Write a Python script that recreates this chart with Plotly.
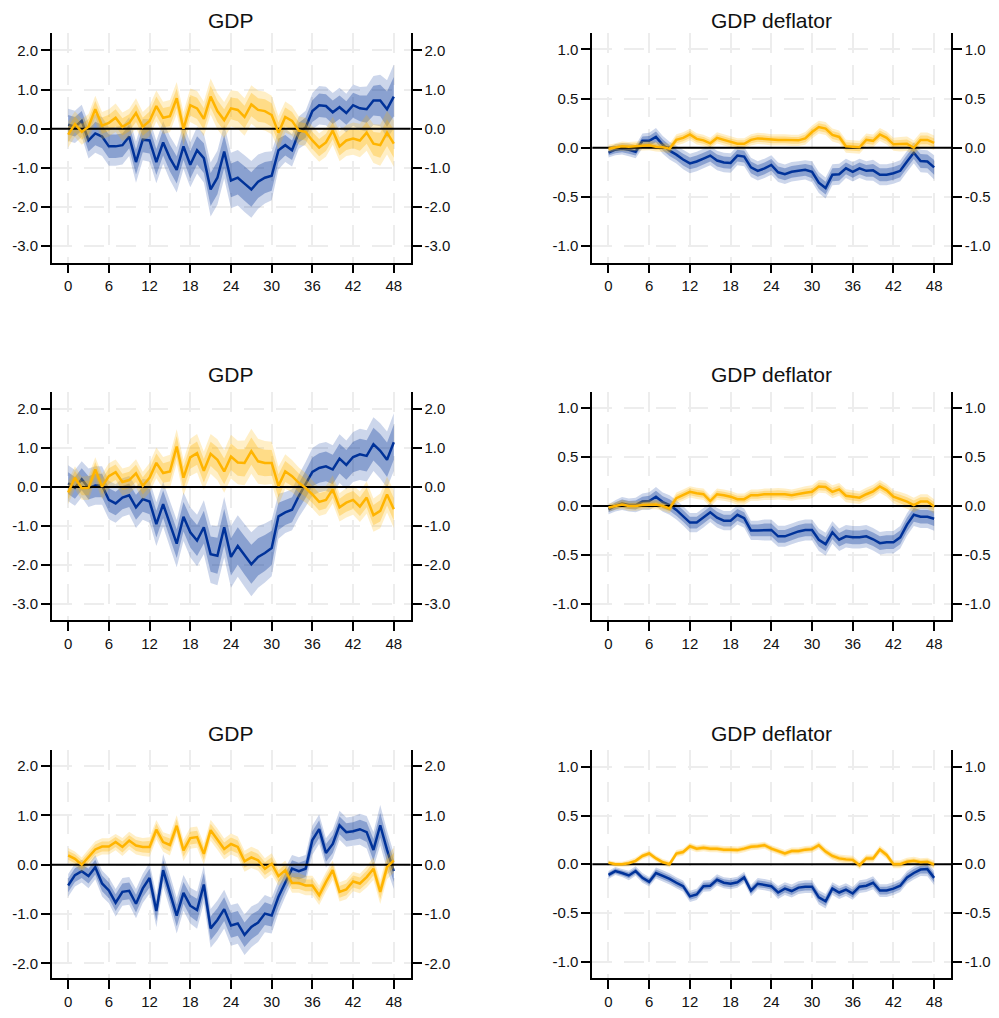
import plotly.graph_objects as go

periods = list(range(49))

# ---------- Row 1 ----------
gdp1_blue = [0.1, 0.05, 0.2, -0.3, -0.12, -0.2, -0.45, -0.45, -0.42, -0.2, -0.85, -0.28, -0.3, -0.85, -0.35,
             -0.75, -1.05, -0.45, -0.92, -0.55, -0.75, -1.55, -1.25, -0.58, -1.32, -1.25, -1.4, -1.55, -1.35,
             -1.25, -1.2, -0.55, -0.42, -0.55, -0.1, 0.03, 0.45, 0.6, 0.58, 0.42, 0.55, 0.4, 0.6, 0.52, 0.5,
             0.72, 0.72, 0.5, 0.82]
gdp1_blue_sd = [0.25, 0.25, 0.25, 0.28, 0.3, 0.3, 0.3, 0.3, 0.3, 0.3, 0.32, 0.32, 0.33, 0.33, 0.33, 0.34, 0.35,
                0.35, 0.35, 0.36, 0.38, 0.42, 0.42, 0.42, 0.43, 0.43, 0.44, 0.44, 0.42, 0.4, 0.38, 0.3, 0.26,
                0.25, 0.25, 0.26, 0.28, 0.3, 0.3, 0.3, 0.3, 0.3, 0.32, 0.33, 0.35, 0.38, 0.4, 0.45, 0.5]
gdp1_orange = [-0.15, 0.12, -0.08, 0.05, 0.5, 0.08, 0.15, 0.28, 0.05, 0.15, 0.4, 0.05, 0.2, 0.58, 0.28, 0.32,
               0.78, 0.0, 0.6, 0.52, 0.25, 0.82, 0.45, 0.22, 0.52, 0.48, 0.3, 0.62, 0.48, 0.45, 0.35, -0.1,
               0.3, 0.2, -0.05, -0.08, -0.3, -0.48, -0.35, -0.05, -0.45, -0.3, -0.25, -0.3, -0.1, -0.38,
               -0.42, -0.1, -0.38]
gdp1_orange_sd = [0.2, 0.2, 0.2, 0.2, 0.21, 0.21, 0.21, 0.22, 0.22, 0.22, 0.23, 0.23, 0.24, 0.24, 0.25, 0.25,
                  0.25, 0.26, 0.26, 0.27, 0.27, 0.28, 0.28, 0.28, 0.28, 0.29, 0.29, 0.3, 0.3, 0.3, 0.3, 0.26,
                  0.24, 0.23, 0.22, 0.22, 0.22, 0.22, 0.22, 0.22, 0.23, 0.24, 0.25, 0.26, 0.28, 0.3, 0.32,
                  0.34, 0.36]

defl1_blue = [-0.05, -0.02, -0.01, -0.02, -0.04, 0.07, 0.07, 0.11, 0.03, -0.03, -0.07, -0.12, -0.16, -0.14,
              -0.11, -0.08, -0.13, -0.15, -0.155, -0.08, -0.09, -0.2, -0.235, -0.21, -0.175, -0.25, -0.27,
              -0.245, -0.235, -0.225, -0.245, -0.355, -0.41, -0.275, -0.27, -0.21, -0.245, -0.21, -0.235,
              -0.23, -0.275, -0.275, -0.26, -0.235, -0.14, -0.05, -0.135, -0.14, -0.2]
defl1_blue_sd = [0.03, 0.035, 0.035, 0.04, 0.04, 0.045, 0.05, 0.055, 0.055, 0.055, 0.055, 0.06, 0.06, 0.06,
                 0.06, 0.06, 0.06, 0.06, 0.06, 0.06, 0.06, 0.06, 0.06, 0.06, 0.06, 0.06, 0.06, 0.06, 0.06,
                 0.06, 0.065, 0.065, 0.065, 0.065, 0.065, 0.06, 0.06, 0.06, 0.06, 0.065, 0.065, 0.065,
                 0.065, 0.065, 0.065, 0.065, 0.07, 0.07, 0.075]
defl1_orange = [-0.01, 0.005, 0.015, 0.01, 0.015, 0.02, 0.025, 0.01, 0.005, -0.01, 0.08, 0.1, 0.135, 0.09,
                0.075, 0.045, 0.1, 0.08, 0.06, 0.04, 0.04, 0.08, 0.095, 0.09, 0.08, 0.08, 0.08, 0.075, 0.075,
                0.095, 0.16, 0.21, 0.195, 0.13, 0.11, 0.015, 0.01, 0.005, 0.08, 0.07, 0.135, 0.1, 0.035,
                0.035, 0.04, 0.0, 0.08, 0.08, 0.05]
defl1_orange_sd = [0.025, 0.025, 0.03, 0.03, 0.03, 0.03, 0.03, 0.03, 0.03, 0.03, 0.035, 0.035, 0.035, 0.035,
                   0.035, 0.035, 0.035, 0.035, 0.035, 0.035, 0.035, 0.035, 0.035, 0.035, 0.035, 0.035,
                   0.035, 0.035, 0.035, 0.04, 0.04, 0.04, 0.04, 0.04, 0.04, 0.04, 0.04, 0.04, 0.04, 0.04,
                   0.04, 0.04, 0.04, 0.045, 0.045, 0.045, 0.045, 0.045, 0.045]

# ---------- Row 2 ----------
gdp2_blue = [0.1, -0.02, 0.2, -0.02, 0.04, 0.04, -0.33, -0.42, -0.27, -0.21, -0.52, -0.31, -0.37, -0.95,
             -0.44, -0.95, -1.45, -0.76, -1.16, -1.37, -1.03, -1.72, -1.76, -1.03, -1.79, -1.51, -1.75,
             -1.98, -1.79, -1.69, -1.56, -0.75, -0.65, -0.58, -0.23, 0.07, 0.39, 0.49, 0.53, 0.45, 0.73,
             0.57, 0.77, 0.84, 0.8, 1.1, 0.93, 0.7, 1.15]
gdp2_blue_sd = [0.28, 0.28, 0.28, 0.3, 0.3, 0.3, 0.3, 0.3, 0.3, 0.3, 0.32, 0.32, 0.33, 0.34, 0.35, 0.36, 0.37,
                0.38, 0.39, 0.4, 0.42, 0.45, 0.46, 0.47, 0.48, 0.48, 0.49, 0.5, 0.48, 0.46, 0.44, 0.35, 0.32,
                0.32, 0.33, 0.35, 0.37, 0.38, 0.38, 0.38, 0.38, 0.38, 0.39, 0.4, 0.4, 0.42, 0.43, 0.44, 0.45]
gdp2_orange = [-0.14, 0.24, -0.03, -0.02, 0.45, 0.01, 0.28, 0.38, 0.13, 0.18, 0.35, 0.03, 0.24, 0.62, 0.36,
               0.4, 1.04, 0.24, 0.76, 0.87, 0.42, 0.85, 0.7, 0.4, 0.78, 0.63, 0.62, 0.92, 0.66, 0.62, 0.62,
               0.03, 0.4, 0.28, 0.11, -0.02, -0.19, -0.38, -0.33, -0.06, -0.52, -0.4, -0.33, -0.5, -0.27,
               -0.72, -0.61, -0.19, -0.57]
gdp2_orange_sd = [0.18, 0.18, 0.18, 0.19, 0.19, 0.2, 0.2, 0.2, 0.21, 0.21, 0.22, 0.22, 0.23, 0.24, 0.25, 0.26,
                  0.27, 0.28, 0.29, 0.3, 0.3, 0.31, 0.32, 0.33, 0.34, 0.34, 0.35, 0.35, 0.35, 0.34, 0.33, 0.3,
                  0.27, 0.25, 0.24, 0.23, 0.22, 0.22, 0.22, 0.22, 0.22, 0.23, 0.23, 0.24, 0.25, 0.26, 0.27,
                  0.28, 0.29]

defl2_blue = [-0.035, 0.0, 0.025, 0.01, 0.01, 0.045, 0.05, 0.095, 0.04, 0.01, -0.04, -0.1, -0.17, -0.17,
              -0.12, -0.065, -0.12, -0.15, -0.15, -0.09, -0.125, -0.25, -0.25, -0.245, -0.245, -0.31, -0.31,
              -0.285, -0.26, -0.245, -0.245, -0.345, -0.39, -0.27, -0.345, -0.31, -0.32, -0.32, -0.31,
              -0.34, -0.38, -0.37, -0.37, -0.32, -0.19, -0.09, -0.11, -0.11, -0.13]
defl2_blue_sd = [0.03, 0.035, 0.04, 0.04, 0.045, 0.05, 0.055, 0.06, 0.06, 0.06, 0.06, 0.06, 0.06, 0.06, 0.06,
                 0.06, 0.06, 0.06, 0.06, 0.06, 0.06, 0.06, 0.06, 0.065, 0.065, 0.065, 0.065, 0.065, 0.065,
                 0.065, 0.065, 0.07, 0.07, 0.07, 0.07, 0.07, 0.07, 0.07, 0.07, 0.07, 0.07, 0.07, 0.07,
                 0.07, 0.07, 0.07, 0.07, 0.07, 0.075]
defl2_orange = [-0.015, 0.0, 0.015, 0.0, 0.0, 0.01, 0.015, 0.015, 0.0, -0.025, 0.08, 0.11, 0.145, 0.13, 0.12,
                0.05, 0.12, 0.11, 0.095, 0.07, 0.07, 0.11, 0.11, 0.12, 0.12, 0.125, 0.12, 0.11, 0.125, 0.135,
                0.145, 0.2, 0.195, 0.145, 0.17, 0.105, 0.095, 0.085, 0.12, 0.15, 0.2, 0.16, 0.095, 0.07,
                0.045, 0.01, 0.045, 0.045, -0.005]
defl2_orange_sd = [0.025, 0.025, 0.03, 0.03, 0.03, 0.03, 0.03, 0.03, 0.03, 0.03, 0.035, 0.035, 0.035, 0.035,
                   0.035, 0.035, 0.035, 0.035, 0.035, 0.035, 0.035, 0.035, 0.035, 0.035, 0.035, 0.035,
                   0.035, 0.035, 0.035, 0.04, 0.04, 0.04, 0.04, 0.04, 0.04, 0.04, 0.04, 0.04, 0.04, 0.04,
                   0.04, 0.04, 0.04, 0.045, 0.045, 0.045, 0.045, 0.045, 0.045]

# ---------- Row 3 ----------
gdp3_blue = [-0.42, -0.21, -0.13, -0.23, -0.05, -0.38, -0.52, -0.77, -0.55, -0.53, -0.79, -0.48, -0.27,
             -0.94, -0.11, -0.55, -1.03, -0.57, -0.83, -0.92, -0.4, -1.29, -1.12, -0.9, -1.23, -1.19, -1.42,
             -1.26, -1.17, -0.99, -1.03, -0.65, -0.36, -0.08, -0.13, -0.08, 0.5, 0.72, 0.24, 0.42, 0.8,
             0.66, 0.68, 0.72, 0.66, 0.3, 0.8, 0.3, -0.13]
gdp3_blue_sd = [0.14, 0.14, 0.14, 0.15, 0.15, 0.16, 0.16, 0.17, 0.17, 0.17, 0.18, 0.18, 0.19, 0.2, 0.2, 0.21,
                0.22, 0.22, 0.22, 0.23, 0.23, 0.24, 0.24, 0.24, 0.25, 0.25, 0.25, 0.25, 0.24, 0.23, 0.22,
                0.2, 0.18, 0.17, 0.17, 0.17, 0.18, 0.18, 0.18, 0.18, 0.18, 0.18, 0.18, 0.19, 0.2, 0.22,
                0.25, 0.24, 0.22]
gdp3_orange = [0.19, 0.12, 0.0, 0.15, 0.31, 0.37, 0.37, 0.46, 0.36, 0.49, 0.39, 0.36, 0.36, 0.71, 0.46, 0.4,
               0.79, 0.29, 0.54, 0.56, 0.22, 0.7, 0.52, 0.32, 0.42, 0.36, 0.07, 0.15, 0.09, -0.08, 0.02,
               -0.23, -0.11, -0.37, -0.37, -0.42, -0.42, -0.62, -0.35, -0.11, -0.55, -0.5, -0.34, -0.38,
               -0.25, -0.08, -0.55, -0.05, 0.09]
gdp3_orange_sd = [0.09, 0.09, 0.09, 0.1, 0.1, 0.1, 0.1, 0.1, 0.11, 0.11, 0.11, 0.11, 0.12, 0.12, 0.12, 0.13,
                  0.13, 0.13, 0.13, 0.13, 0.13, 0.13, 0.13, 0.13, 0.13, 0.13, 0.13, 0.13, 0.13, 0.13, 0.13,
                  0.12, 0.12, 0.12, 0.12, 0.12, 0.12, 0.12, 0.12, 0.12, 0.12, 0.12, 0.12, 0.12, 0.13, 0.14,
                  0.15, 0.15, 0.15]

defl3_blue = [-0.11, -0.07, -0.09, -0.115, -0.07, -0.14, -0.18, -0.09, -0.12, -0.15, -0.19, -0.225, -0.33,
              -0.31, -0.225, -0.22, -0.16, -0.19, -0.2, -0.185, -0.135, -0.27, -0.2, -0.21, -0.225, -0.29,
              -0.25, -0.275, -0.24, -0.23, -0.23, -0.34, -0.38, -0.25, -0.29, -0.26, -0.3, -0.23, -0.22,
              -0.19, -0.27, -0.27, -0.25, -0.22, -0.135, -0.09, -0.055, -0.05, -0.14]
defl3_blue_sd = [0.025, 0.025, 0.025, 0.03, 0.03, 0.03, 0.03, 0.035, 0.035, 0.035, 0.035, 0.035, 0.035,
                 0.035, 0.035, 0.035, 0.035, 0.035, 0.035, 0.035, 0.035, 0.035, 0.035, 0.035, 0.035, 0.04,
                 0.04, 0.04, 0.04, 0.04, 0.04, 0.045, 0.045, 0.04, 0.04, 0.04, 0.04, 0.04, 0.04, 0.04,
                 0.04, 0.04, 0.04, 0.04, 0.04, 0.04, 0.04, 0.045, 0.045]
defl3_orange = [0.015, 0.0, 0.0, 0.01, 0.035, 0.085, 0.11, 0.06, 0.02, 0.0, 0.11, 0.125, 0.185, 0.16, 0.17,
                0.16, 0.16, 0.15, 0.15, 0.145, 0.16, 0.18, 0.185, 0.195, 0.16, 0.135, 0.11, 0.135, 0.135,
                0.15, 0.155, 0.195, 0.13, 0.085, 0.06, 0.05, 0.045, -0.01, 0.06, 0.06, 0.15, 0.095, 0.0,
                0.0, 0.025, 0.035, 0.02, 0.025, -0.005]
defl3_orange_sd = [0.015, 0.015, 0.015, 0.02, 0.02, 0.02, 0.02, 0.02, 0.02, 0.02, 0.022, 0.022, 0.022,
                   0.022, 0.022, 0.022, 0.022, 0.022, 0.022, 0.022, 0.022, 0.022, 0.022, 0.022, 0.022,
                   0.022, 0.022, 0.022, 0.022, 0.022, 0.022, 0.025, 0.025, 0.025, 0.025, 0.025, 0.025,
                   0.025, 0.025, 0.025, 0.025, 0.025, 0.025, 0.025, 0.025, 0.025, 0.025, 0.025, 0.025]

panel_titles = ["GDP", "GDP deflator", "GDP", "GDP deflator", "GDP", "GDP deflator"]
xtick_vals = [0, 6, 12, 18, 24, 30, 36, 42, 48]
gdp_ticks_tall = [-3, -2, -1, 0, 1, 2]
gdp_ticks_short = [-2, -1, 0, 1, 2]
defl_ticks = [-1.0, -0.5, 0.0, 0.5, 1.0]
baseline = 0.0

# bands: inner = +/- 1 sd, outer = +/- 1.645 sd
Z_INNER = 1.0
Z_OUTER = 1.645

XRANGE = [-2.4, 50.5]
panels = [
    dict(blue=gdp1_blue, bsd=gdp1_blue_sd, orange=gdp1_orange, osd=gdp1_orange_sd, ticks=gdp_ticks_tall, yr=[-3.42, 2.45]),
    dict(blue=defl1_blue, bsd=defl1_blue_sd, orange=defl1_orange, osd=defl1_orange_sd, ticks=defl_ticks, yr=[-1.17, 1.17]),
    dict(blue=gdp2_blue, bsd=gdp2_blue_sd, orange=gdp2_orange, osd=gdp2_orange_sd, ticks=gdp_ticks_tall, yr=[-3.42, 2.45]),
    dict(blue=defl2_blue, bsd=defl2_blue_sd, orange=defl2_orange, osd=defl2_orange_sd, ticks=defl_ticks, yr=[-1.17, 1.17]),
    dict(blue=gdp3_blue, bsd=gdp3_blue_sd, orange=gdp3_orange, osd=gdp3_orange_sd, ticks=gdp_ticks_short, yr=[-2.3, 2.32]),
    dict(blue=defl3_blue, bsd=defl3_blue_sd, orange=defl3_orange, osd=defl3_orange_sd, ticks=defl_ticks, yr=[-1.17, 1.17]),
]

# page places the figure 8px from top-left (body margin)
OFF = 8
W, H = 999 - 2 * OFF, 1018 - 2 * OFF
col_px = [(52 - OFF, 412 - OFF), (594 - OFF, 954 - OFF)]
row_px = [(33 - OFF, 265 - OFF), (395 - OFF, 626 - OFF), (757 - OFF, 987 - OFF)]
title_px = [16 - OFF, 378 - OFF, 740 - OFF]

BLUE = "#003299"
ORANGE = "#FFB400"
BLUE_OUT = "rgba(0,50,153,0.20)"
BLUE_IN = "rgba(0,50,153,0.32)"
OR_OUT = "rgba(255,180,0,0.22)"
OR_IN = "rgba(255,180,0,0.32)"
FONT = "Liberation Sans, Arial, sans-serif"

fig = go.Figure()
layout = dict(width=W, height=H, margin=dict(l=0, r=0, t=0, b=0),
              paper_bgcolor="white", plot_bgcolor="white", showlegend=False,
              font=dict(family=FONT, size=15, color="#111111"))
annotations = []


def band(x, mid, sd, z):
    up = [m + z * s for m, s in zip(mid, sd)]
    lo = [m - z * s for m, s in zip(mid, sd)]
    return list(x) + list(x)[::-1], up + lo[::-1]


def fmt(v):
    return f"{v:.1f}"


for i, p in enumerate(panels):
    r, c = divmod(i, 2)
    n = i + 1
    xa = "x" if n == 1 else f"x{n}"
    ya = "y" if n == 1 else f"y{n}"
    groups = [(p["blue"], p["bsd"], BLUE, BLUE_IN, BLUE_OUT),
              (p["orange"], p["osd"], ORANGE, OR_IN, OR_OUT)]
    for k, (series, sd, col, cin, cout) in enumerate(groups):
        bx, by = band(periods, series, sd, Z_OUTER)
        fig.add_trace(go.Scatter(x=bx, y=by, fill="toself", fillcolor=cout, mode="none",
                                 hoverinfo="skip", xaxis=xa, yaxis=ya))
        bx, by = band(periods, series, sd, Z_INNER)
        fig.add_trace(go.Scatter(x=bx, y=by, fill="toself", fillcolor=cin, mode="none",
                                 hoverinfo="skip", xaxis=xa, yaxis=ya))
        if k == 1:
            # zero reference line across the full axis width
            fig.add_trace(go.Scatter(x=XRANGE, y=[baseline, baseline], mode="lines",
                                     line=dict(color="black", width=2), hoverinfo="skip",
                                     xaxis=xa, yaxis=ya))
        fig.add_trace(go.Scatter(x=periods, y=series, mode="lines",
                                 line=dict(color=col, width=2.5), xaxis=xa, yaxis=ya))

    x0, x1 = col_px[c]
    yt, yb = row_px[r]
    xdom = [x0 / W, x1 / W]
    ydom = [1 - yb / H, 1 - yt / H]
    grid = dict(showgrid=True, gridcolor="#ededed", gridwidth=2, griddash="20px,12px")
    axcommon = dict(showline=True, linecolor="black", linewidth=1.5, ticks="outside",
                    ticklen=9, tickwidth=1.5, tickcolor="black", zeroline=False,
                    tickfont=dict(family=FONT, size=15, color="#111111"))
    layout[f"xaxis{n}"] = dict(domain=xdom, anchor=ya, range=XRANGE, tickvals=xtick_vals,
                               **grid, **axcommon)
    ytext = [fmt(v) for v in p["ticks"]]
    layout[f"yaxis{n}"] = dict(domain=ydom, anchor=xa, range=p["yr"], tickvals=p["ticks"],
                               ticktext=ytext, **grid, **axcommon)
    layout[f"yaxis{n + 6}"] = dict(overlaying=ya, anchor=xa, side="right", range=p["yr"],
                                   tickvals=p["ticks"], ticktext=ytext, showgrid=False, **axcommon)
    # empty trace so the right-hand axis is drawn
    fig.add_trace(go.Scatter(x=[], y=[], xaxis=xa, yaxis=f"y{n + 6}", hoverinfo="skip"))

    annotations.append(dict(text=panel_titles[i], xref="paper", yref="paper",
                            x=(xdom[0] + xdom[1]) / 2,
                            y=1 - title_px[r] / H if r > 0 else 1.0,
                            xanchor="center", yanchor="middle" if r > 0 else "top",
                            borderpad=0, showarrow=False,
                            font=dict(family=FONT, size=21, color="#111111")))

layout["annotations"] = annotations
fig.update_layout(**layout)
fig.write_html("out.html")
